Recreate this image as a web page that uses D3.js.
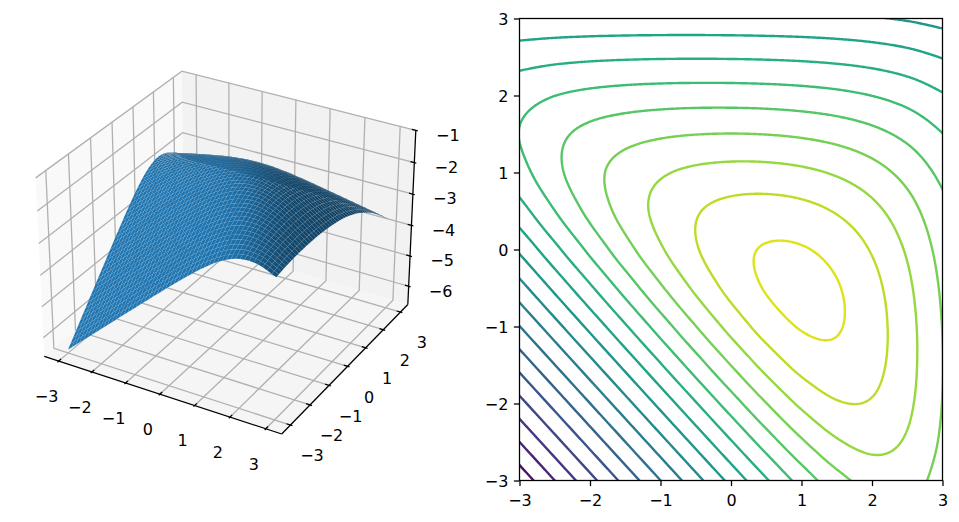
<!DOCTYPE html>
<html><head><meta charset="utf-8">
<script src="https://cdn.jsdelivr.net/npm/d3@7/dist/d3.min.js"></script>
<style>html,body{margin:0;padding:0;background:#fff}svg{display:block}text{font-family:"DejaVu Sans";font-size:16px;fill:#000}</style>
</head><body><svg id="c" width="959" height="522"></svg>
<script>
// ---------- data ----------
const gridX = [-3,-2.5,-2,-1.5,-1,-0.5,0,0.5,1,1.5,2,2.5,3];
const gridY = [-3,-2.5,-2,-1.5,-1,-0.5,0,0.5,1,1.5,2,2.5,3];
const surfaceRow0  = [-6.5002,-6.0003,-5.5005,-5.0011,-4.5024,-4.0056,-3.5135,-3.0337,-2.5851,-2.2104,-1.9854,-1.9854,-2.2104];
const surfaceRow1  = [-6.0004,-5.5007,-5.0012,-4.5024,-4.0049,-3.5108,-3.0247,-2.5591,-2.1429,-1.8351,-1.7177,-1.8351,-2.1429];
const surfaceRow2  = [-5.5010,-5.0017,-4.5030,-4.0056,-3.5108,-3.0220,-2.5474,-2.1064,-1.7413,-1.5239,-1.5239,-1.7413,-2.1064];
const surfaceRow3  = [-5.0026,-4.5044,-4.0076,-3.5135,-3.0247,-2.5474,-2.0949,-1.6967,-1.4076,-1.2989,-1.4076,-1.6967,-2.0949];
const surfaceRow4  = [-4.5069,-4.0116,-3.5197,-3.0337,-2.5591,-2.1064,-1.6967,-1.3690,-1.1803,-1.1803,-1.3690,-1.6967,-2.1064];
const surfaceRow5  = [-4.0185,-3.5306,-3.0509,-2.5851,-2.1429,-1.7413,-1.4076,-1.1803,-1.0986,-1.1803,-1.4076,-1.7413,-2.1429];
const surfaceRow6  = [-3.5491,-3.0803,-2.6305,-2.2104,-1.8351,-1.5239,-1.2989,-1.1803,-1.1803,-1.2989,-1.5239,-1.8351,-2.2104];
const surfaceRow7  = [-3.1277,-2.7035,-2.3182,-1.9854,-1.7177,-1.5239,-1.4076,-1.3690,-1.4076,-1.5239,-1.7177,-1.9854,-2.3182];
const surfaceRow8  = [-2.8144,-2.4766,-2.1987,-1.9854,-1.8351,-1.7413,-1.6967,-1.6967,-1.7413,-1.8351,-1.9854,-2.1987,-2.4766];
const surfaceRow9  = [-2.6944,-2.4766,-2.3182,-2.2104,-2.1429,-2.1064,-2.0949,-2.1064,-2.1429,-2.2104,-2.3182,-2.4766,-2.6944];
const surfaceRow10 = [-2.8144,-2.7035,-2.6305,-2.5851,-2.5591,-2.5474,-2.5474,-2.5591,-2.5851,-2.6305,-2.7035,-2.8144,-2.9746];
const surfaceRow11 = [-3.1277,-3.0803,-3.0509,-3.0337,-3.0247,-3.0220,-3.0247,-3.0337,-3.0509,-3.0803,-3.1277,-3.2019,-3.3135];
const surfaceRow12 = [-3.5491,-3.5306,-3.5197,-3.5135,-3.5108,-3.5108,-3.5135,-3.5197,-3.5306,-3.5491,-3.5792,-3.6271,-3.7015];
const surfaceZ = [surfaceRow0,surfaceRow1,surfaceRow2,surfaceRow3,surfaceRow4,surfaceRow5,surfaceRow6,surfaceRow7,surfaceRow8,surfaceRow9,surfaceRow10,surfaceRow11,surfaceRow12];

const xTicks3d = [-3,-2,-1,0,1,2,3];
const yTicks3d = [-3,-2,-1,0,1,2,3];
const zTicks3d = [-6,-5,-4,-3,-2,-1];
const xyLimits = [-3.4375,3.4375];
const zLimits = [-6.6127,-0.9861];
const ticks2d = [-3,-2,-1,0,1,2,3];
const contourLevels = [-6.3,-6.0,-5.7,-5.4,-5.1,-4.8,-4.5,-4.2,-3.9,-3.6,-3.3,-3.0,-2.7,-2.4,-2.1,-1.8,-1.5,-1.2];
const colourRange = [-6.6,-0.9];

// ---------- page ----------
const svg = d3.select("#c");
const a = 0.5952, c = 0.4464;
const xBox = d3.scaleLinear().domain(xyLimits).range([-a,a]);
const yBox = d3.scaleLinear().domain(xyLimits).range([-a,a]);
const zBox = d3.scaleLinear().domain(zLimits).range([-c,c]);
const screenX = d3.scaleLinear().domain([0,0.1]).range([229.4,229.4+228.5]);
const screenY = d3.scaleLinear().domain([0,0.1]).range([243.6,243.6-228.5]);
function project(x,y,z){
  const P=xBox(x),Q=yBox(y),R=zBox(z);
  const X=.8660254*P+.5*Q, Y=-.25*P+.4330127*Q+.8660254*R, D=10-(.4330127*P-.75*Q+.5*R);
  return [screenX(X/D),screenY(Y/D),D];
}
const [lo,hi]=xyLimits,[zl,zh]=zLimits;
const poly=pts=>pts.map(p=>{const s=project(...p);return s[0]+","+s[1]}).join(" ");
const g3=svg.append("g");
[{pts:[[lo,lo,zl],[lo,hi,zl],[lo,hi,zh],[lo,lo,zh]],f:"#f9f9f9"},
 {pts:[[lo,hi,zl],[hi,hi,zl],[hi,hi,zh],[lo,hi,zh]],f:"#f2f2f2"},
 {pts:[[lo,lo,zl],[hi,lo,zl],[hi,hi,zl],[lo,hi,zl]],f:"#f5f5f5"}]
 .forEach(d=>g3.append("polygon").attr("points",poly(d.pts)).attr("fill",d.f));
const gridLine=pts=>g3.append("polyline").attr("points",poly(pts)).attr("fill","none").attr("stroke","#b0b0b0").attr("stroke-width",1.28);
xTicks3d.forEach(t=>gridLine([[t,lo,zl],[t,hi,zl],[t,hi,zh]]));
yTicks3d.forEach(t=>gridLine([[hi,t,zl],[lo,t,zl],[lo,t,zh]]));
zTicks3d.forEach(t=>gridLine([[lo,lo,t],[lo,hi,t],[hi,hi,t]]));
const axisLine=pts=>g3.append("polyline").attr("points",poly(pts)).attr("fill","none").attr("stroke","#000").attr("stroke-width",1.28);
axisLine([[lo,lo,zl],[hi,lo,zl]]);axisLine([[hi,lo,zl],[hi,hi,zl]]);axisLine([[hi,hi,zl],[hi,hi,zh]]);
const tOut=.055,tIn=.11;
const label=(p,dx,dy,t)=>g3.append("text").attr("x",p[0]+dx).attr("y",p[1]+dy).attr("dy","0.36em").attr("text-anchor","middle").text(d3.format("d")(t));
xTicks3d.forEach(t=>{axisLine([[t,lo-tOut,zl],[t,lo+tIn,zl]]);label(project(t,lo,zl),-12,35,t)});
yTicks3d.forEach(t=>{axisLine([[hi+tOut,t,zl],[hi-tIn,t,zl]]);label(project(hi,t,zl),21.5,30.5,t)});
zTicks3d.forEach(t=>{axisLine([[hi+tOut,hi,t],[hi-tIn,hi,t]]);label(project(hi,hi,t),32,4.5,t)});

// smooth (Catmull-Rom) surface through the read grid
function cr(p0,p1,p2,p3,t){return .5*((2*p1)+(-p0+p2)*t+(2*p0-5*p1+4*p2-p3)*t*t+(-p0+3*p1-3*p2+p3)*t*t*t)}
const nG=gridX.length-1;
function sample1(arr,u){
  const n=arr.length-1,i=Math.max(0,Math.min(n-1,Math.floor(u))),t=u-i;
  const g=k=>k<0?2*arr[0]-arr[1]:k>n?2*arr[n]-arr[n-1]:arr[k];
  return cr(g(i-1),g(i),g(i+1),g(i+2),t);
}
const toU=d3.scaleLinear().domain([gridX[0],gridX[nG]]).range([0,nG]);
function surfaceAt(x,y){
  const ux=toU(x),uy=toU(y);
  return sample1(gridX.map((_,i)=>sample1(surfaceZ.map(r=>r[i]),uy)),ux);
}
const CELLS=49;
const meshAxis=d3.scaleLinear().domain([0,CELLS]).range([gridX[0],gridX[nG]]);
const mesh=d3.range(CELLS+1).map(j=>d3.range(CELLS+1).map(i=>surfaceAt(meshAxis(i),meshAxis(j))));
const faces=[];
const base=d3.rgb("#1f77b4");
const L=[-.6667,-.6667,.3333];
for(let j=0;j<CELLS;j++)for(let i=0;i<CELLS;i++){
  const P=[[i,j],[i+1,j],[i+1,j+1],[i,j+1]].map(([a1,b1])=>[meshAxis(a1),meshAxis(b1),mesh[b1][a1]]);
  const v1=[P[2][0]-P[0][0],P[2][1]-P[0][1],P[2][2]-P[0][2]],v2=[P[3][0]-P[1][0],P[3][1]-P[1][1],P[3][2]-P[1][2]];
  let n=[v1[1]*v2[2]-v1[2]*v2[1],v1[2]*v2[0]-v1[0]*v2[2],v1[0]*v2[1]-v1[1]*v2[0]];
  const m=Math.hypot(...n);n=n.map(d=>d/m);
  const k=.65+.35*(n[0]*L[0]+n[1]*L[1]+n[2]*L[2]);
  const S=P.map(p=>project(...p));
  faces.push({pts:S.map(s=>s[0]+","+s[1]).join(" "),d:d3.mean(S,s=>s[2]),c:`rgb(${base.r*k},${base.g*k},${base.b*k})`});
}
faces.sort((p,q)=>q.d-p.d);
g3.append("g").selectAll("polygon").data(faces).join("polygon").attr("points",d=>d.pts).attr("fill",d=>d.c)
  .attr("stroke","#fff").attr("stroke-opacity",.1).attr("stroke-width",.4);

// contour panel: d3.contours on the same surface, extended past the frame and clipped
const x2=d3.scaleLinear().domain([-3,3]).range([519.5,942.5]);
const y2=d3.scaleLinear().domain([-3,3]).range([480.5,18.5]);
const colour=d3.scaleSequential(d3.interpolateViridis).domain(colourRange);
const g2=svg.append("g");
g2.append("clipPath").attr("id","cp").append("rect").attr("x",519.5).attr("y",18.5).attr("width",423).attr("height",462);
const NC=320;
const cellX=d3.scaleLinear().domain([.5,NC-.5]).range([-3.08,3.08]);
const values=new Float64Array(NC*NC);
for(let j=0;j<NC;j++)for(let i=0;i<NC;i++)values[j*NC+i]=surfaceAt(cellX(i+.5),cellX(j+.5));
const contours=d3.contours().size([NC,NC]).thresholds(contourLevels)(values);
const path=d3.geoPath(d3.geoTransform({point(px,py){this.stream.point(x2(cellX(px)),y2(cellX(py)))}}));
contours.forEach(ct=>{
  g2.append("path").attr("clip-path","url(#cp)").attr("d",path(ct)).attr("fill","none").attr("stroke",colour(ct.value)).attr("stroke-width",2.4);
});
g2.append("rect").attr("x",519.5).attr("y",18.5).attr("width",423).attr("height",462).attr("fill","none").attr("stroke","#000").attr("stroke-width",1.28);
const ax=g2.append("g").attr("transform","translate(0,480.5)").call(d3.axisBottom(x2).tickValues(ticks2d).tickFormat(d3.format("d")).tickSize(5.6).tickPadding(5.6));
const ay=g2.append("g").attr("transform","translate(519.5,0)").call(d3.axisLeft(y2).tickValues(ticks2d).tickFormat(d3.format("d")).tickSize(5.6).tickPadding(5.6));
[ax,ay].forEach(s=>{s.attr("font-size",null).attr("font-family",null);s.select(".domain").remove();s.selectAll("line").attr("stroke","#000").attr("stroke-width",1.28);s.selectAll("text").attr("fill","#000")});
ax.selectAll("text").attr("dy","0.87em");
ay.selectAll("text").attr("dy","0.4em");
</script></body></html>
